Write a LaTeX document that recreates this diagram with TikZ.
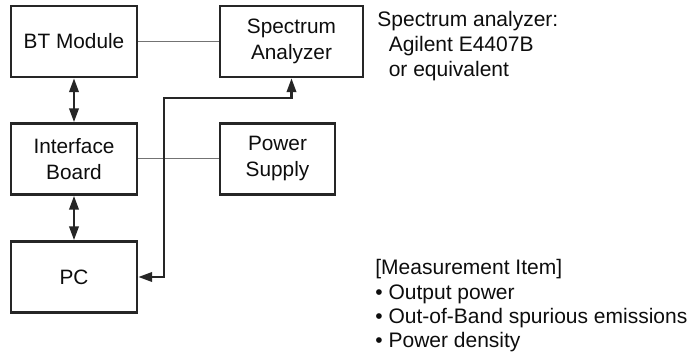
\documentclass[tikz,border=0pt]{standalone}
\usepackage{fontspec}
\setmainfont{Liberation Sans}
\usetikzlibrary{arrows.meta}

\begin{document}
\begin{tikzpicture}[x=0.5pt,y=-0.5pt,
  box/.style={draw=black!85,line width=1.1pt,align=center,inner sep=0pt,
    minimum height=35.5pt,text=black!95,font=\fontsize{10.4}{13}\selectfont},
  link/.style={draw=black!55,line width=0.5pt},
  bus/.style={draw=black!85,line width=1.4pt,
    {Triangle[length=7pt,width=4.6pt]}-{Triangle[length=7pt,width=4.6pt]}},
  note/.style={align=left,inner sep=0pt,anchor=base west,text=black!95}]

\useasboundingbox (0,0) rectangle (692,358);

\node[box,minimum width=63pt] (bt) at (74,41.5) {BT Module};
\node[box,minimum width=71.5pt] (sa) at (291.5,41.5) {Spectrum\\Analyzer};
\node[box,minimum width=63pt] (ib) at (74,159) {Interface\\Board};
\node[box,minimum width=57.5pt] (ps) at (277.5,159) {Power\\Supply};
\node[box,minimum width=63pt] (pc) at (74,277) {PC};

% thin lines
\draw[link] (bt) -- (sa);
\draw[link] (ib) -- (ps);

% bus lines
\draw[bus] (bt) -- (ib);
\draw[bus] (ib) -- (pc);
\coordinate (bend) at (164,98);
\draw[bus] (pc.east) -| (bend) -| (sa.south);

% anchored at the baseline of the last line
\node[note,font=\fontsize{10.5}{12.5}\selectfont] (saNote) at (377,77)
  {Spectrum analyzer:\\\hspace*{5.7pt}Agilent E4407B\\\hspace*{5.7pt}or equivalent};
\node[note,font=\fontsize{10.5}{12.2}\selectfont] (items) at (375,348)
  {[Measurement Item]\\\textbullet\ Output power\\\textbullet\ Out-of-Band spurious emissions\\\textbullet\ Power density};
\end{tikzpicture}
\end{document}
